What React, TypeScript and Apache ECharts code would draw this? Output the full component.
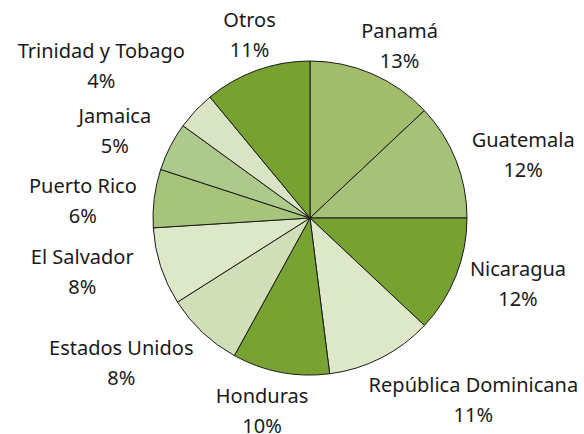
import React, { useEffect, useRef } from "react";
import * as echarts from "echarts";

const countries = [
  "Panamá",
  "Guatemala",
  "Nicaragua",
  "República Dominicana",
  "Honduras",
  "Estados Unidos",
  "El Salvador",
  "Puerto Rico",
  "Jamaica",
  "Trinidad y Tobago",
  "Otros",
];
const shares = [13, 12, 12, 11, 10, 8, 8, 6, 5, 4, 11];
const sliceColors = [
  "#a1bd6c",
  "#a6c279",
  "#77a232",
  "#dde8c9",
  "#78a232",
  "#d0dfb7",
  "#dde8c9",
  "#a6c57a",
  "#adc98b",
  "#d8e4c4",
  "#77a232",
];

const CX = 310;
const CY = 218;
const R = 157;
const GAP = 10;
const labelNudge: [number, number][] = [
  [8, 8],
  [10, 9],
  [8, -7],
  [40, 6],
  [-8, -1],
  [-25, 1],
  [-20, -7],
  [-8, 7],
  [-14, 2],
  [-26, -18],
  [5, 2],
];

export default function App() {
  const ref = useRef<HTMLDivElement>(null);
  useEffect(() => {
    if (!ref.current) return;
    const chart = echarts.init(ref.current, undefined, { renderer: "svg" });
    const total = shares.reduce((a, b) => a + b, 0);
    chart.setOption({
      animation: false,
      backgroundColor: "#ffffff",
      series: [
        {
          type: "pie",
          center: [CX, CY],
          radius: [0, R],
          startAngle: 90,
          clockwise: true,
          avoidLabelOverlap: false,
          itemStyle: { borderColor: "#1a1a1a", borderWidth: 1 },
          label: {
            show: true,
            position: "outside",
            formatter: "{b}\n{c}%",
            fontFamily: "Noto Sans",
            fontSize: 20,
            lineHeight: 30,
            color: "#1a1a1a",
          },
          labelLine: { show: false },
          emphasis: { disabled: true },
          labelLayout: (p: any) => {
            const i = p.dataIndex;
            const before = shares.slice(0, i).reduce((a, b) => a + b, 0);
            const mid = ((before + shares[i] / 2) / total) * Math.PI * 2;
            const ux = Math.sin(mid);
            const uy = -Math.cos(mid);
            const w = p.labelRect.width;
            const h = p.labelRect.height;
            const x = CX + (R + GAP) * ux + (ux * w) / 2 + labelNudge[i][0];
            const y = CY + (R + GAP) * uy + (uy * h) / 2 + labelNudge[i][1];
            return { x, y, align: "center", verticalAlign: "middle" };
          },
          data: countries.map((name, i) => ({
            name,
            value: shares[i],
            itemStyle: { color: sliceColors[i] },
          })),
        },
      ],
    });
    return () => chart.dispose();
  }, []);
  return (
    <div
      ref={ref}
      style={{ position: "fixed", left: 0, top: 0, width: 584, height: 434 }}
    />
  );
}
